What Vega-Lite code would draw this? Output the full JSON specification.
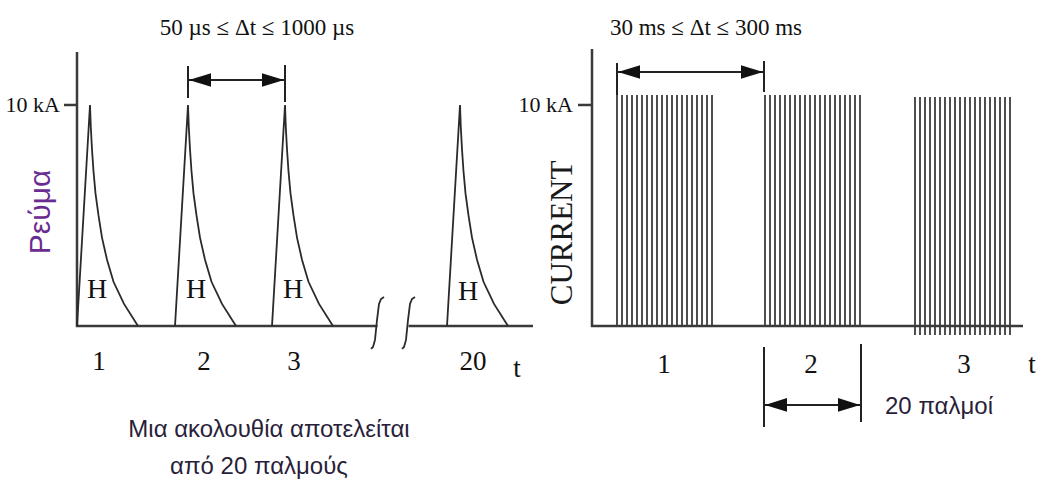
{
  "$schema": "https://vega.github.io/schema/vega-lite/v6.json",
  "width": 1037,
  "height": 486,
  "padding": 0,
  "autosize": {"type": "fit", "contains": "padding"},
  "background": "white",
  "config": {"view": {"stroke": null}},
  "datasets": {
    "curves": [
      {"id": "p1", "k": 0, "t": 7.7, "kA": 0}, {"id": "p1", "k": 1, "t": 9.0, "kA": 10}, {"id": "p1", "k": 2, "t": 9.08, "kA": 9}, {"id": "p1", "k": 3, "t": 9.2, "kA": 8}, {"id": "p1", "k": 4, "t": 9.35, "kA": 7}, {"id": "p1", "k": 5, "t": 9.55, "kA": 6}, {"id": "p1", "k": 6, "t": 9.85, "kA": 5}, {"id": "p1", "k": 7, "t": 10.2, "kA": 4}, {"id": "p1", "k": 8, "t": 10.7, "kA": 3}, {"id": "p1", "k": 9, "t": 11.35, "kA": 2}, {"id": "p1", "k": 10, "t": 12.4, "kA": 1}, {"id": "p1", "k": 11, "t": 13.8, "kA": 0},
      {"id": "p2", "k": 0, "t": 17.5, "kA": 0}, {"id": "p2", "k": 1, "t": 18.8, "kA": 10}, {"id": "p2", "k": 2, "t": 18.88, "kA": 9}, {"id": "p2", "k": 3, "t": 19.0, "kA": 8}, {"id": "p2", "k": 4, "t": 19.15, "kA": 7}, {"id": "p2", "k": 5, "t": 19.35, "kA": 6}, {"id": "p2", "k": 6, "t": 19.65, "kA": 5}, {"id": "p2", "k": 7, "t": 20.0, "kA": 4}, {"id": "p2", "k": 8, "t": 20.5, "kA": 3}, {"id": "p2", "k": 9, "t": 21.15, "kA": 2}, {"id": "p2", "k": 10, "t": 22.2, "kA": 1}, {"id": "p2", "k": 11, "t": 23.6, "kA": 0},
      {"id": "p3", "k": 0, "t": 27.2, "kA": 0}, {"id": "p3", "k": 1, "t": 28.5, "kA": 10}, {"id": "p3", "k": 2, "t": 28.58, "kA": 9}, {"id": "p3", "k": 3, "t": 28.7, "kA": 8}, {"id": "p3", "k": 4, "t": 28.85, "kA": 7}, {"id": "p3", "k": 5, "t": 29.05, "kA": 6}, {"id": "p3", "k": 6, "t": 29.35, "kA": 5}, {"id": "p3", "k": 7, "t": 29.7, "kA": 4}, {"id": "p3", "k": 8, "t": 30.2, "kA": 3}, {"id": "p3", "k": 9, "t": 30.85, "kA": 2}, {"id": "p3", "k": 10, "t": 31.9, "kA": 1}, {"id": "p3", "k": 11, "t": 33.3, "kA": 0},
      {"id": "p20", "k": 0, "t": 44.7, "kA": 0}, {"id": "p20", "k": 1, "t": 46.0, "kA": 10}, {"id": "p20", "k": 2, "t": 46.08, "kA": 9}, {"id": "p20", "k": 3, "t": 46.2, "kA": 8}, {"id": "p20", "k": 4, "t": 46.35, "kA": 7}, {"id": "p20", "k": 5, "t": 46.55, "kA": 6}, {"id": "p20", "k": 6, "t": 46.85, "kA": 5}, {"id": "p20", "k": 7, "t": 47.2, "kA": 4}, {"id": "p20", "k": 8, "t": 47.7, "kA": 3}, {"id": "p20", "k": 9, "t": 48.35, "kA": 2}, {"id": "p20", "k": 10, "t": 49.4, "kA": 1}, {"id": "p20", "k": 11, "t": 50.8, "kA": 0},
      {"id": "b1", "k": 0, "t": 37.1, "kA": -1.04}, {"id": "b1", "k": 1, "t": 37.3, "kA": -0.95}, {"id": "b1", "k": 2, "t": 37.5, "kA": -0.63}, {"id": "b1", "k": 3, "t": 37.7, "kA": 0.27}, {"id": "b1", "k": 4, "t": 37.9, "kA": 1.0}, {"id": "b1", "k": 5, "t": 38.1, "kA": 1.22}, {"id": "b1", "k": 6, "t": 38.4, "kA": 1.31},
      {"id": "b2", "k": 0, "t": 40.2, "kA": -1.04}, {"id": "b2", "k": 1, "t": 40.4, "kA": -0.95}, {"id": "b2", "k": 2, "t": 40.6, "kA": -0.63}, {"id": "b2", "k": 3, "t": 40.8, "kA": 0.27}, {"id": "b2", "k": 4, "t": 41.0, "kA": 1.0}, {"id": "b2", "k": 5, "t": 41.2, "kA": 1.22}, {"id": "b2", "k": 6, "t": 41.5, "kA": 1.31}
    ],
    "segments": [
      {"kind": "axis", "t": 7.7, "t2": 7.7, "kA": -0.05, "kA2": 12.4},
      {"kind": "axis", "t": 7.6, "t2": 37.75, "kA": 0, "kA2": 0},
      {"kind": "axis", "t": 40.85, "t2": 53.3, "kA": 0, "kA2": 0},
      {"kind": "axis", "t": 6.4, "t2": 7.7, "kA": 10, "kA2": 10},
      {"kind": "axis", "t": 59.2, "t2": 59.2, "kA": -0.05, "kA2": 12.53},
      {"kind": "axis", "t": 59.1, "t2": 102.3, "kA": 0, "kA2": 0},
      {"kind": "axis", "t": 57.8, "t2": 59.2, "kA": 10, "kA2": 10},
      {"kind": "dim", "t": 18.8, "t2": 18.8, "kA": 10.32, "kA2": 11.76},
      {"kind": "dim", "t": 28.5, "t2": 28.5, "kA": 10.14, "kA2": 11.81},
      {"kind": "dim", "t": 18.9, "t2": 28.4, "kA": 11.13, "kA2": 11.13},
      {"kind": "dim", "t": 61.7, "t2": 61.7, "kA": 10.45, "kA2": 11.9},
      {"kind": "dim", "t": 76.4, "t2": 76.4, "kA": 10.59, "kA2": 11.99},
      {"kind": "dim", "t": 61.8, "t2": 76.3, "kA": 11.49, "kA2": 11.49},
      {"kind": "dim", "t": 76.4, "t2": 76.4, "kA": -0.95, "kA2": -4.57},
      {"kind": "dim", "t": 86.1, "t2": 86.1, "kA": -0.81, "kA2": -4.34},
      {"kind": "dim", "t": 76.5, "t2": 86.0, "kA": -3.57, "kA2": -3.57}
    ],
    "bars": [
      {"g": 1, "t": 61.7, "kA": 0, "kA2": 10.45}, {"g": 1, "t": 62.2, "kA": 0, "kA2": 10.45}, {"g": 1, "t": 62.7, "kA": 0, "kA2": 10.45}, {"g": 1, "t": 63.2, "kA": 0, "kA2": 10.45}, {"g": 1, "t": 63.7, "kA": 0, "kA2": 10.45},
      {"g": 1, "t": 64.2, "kA": 0, "kA2": 10.45}, {"g": 1, "t": 64.7, "kA": 0, "kA2": 10.45}, {"g": 1, "t": 65.2, "kA": 0, "kA2": 10.45}, {"g": 1, "t": 65.7, "kA": 0, "kA2": 10.45}, {"g": 1, "t": 66.2, "kA": 0, "kA2": 10.45},
      {"g": 1, "t": 66.7, "kA": 0, "kA2": 10.45}, {"g": 1, "t": 67.2, "kA": 0, "kA2": 10.45}, {"g": 1, "t": 67.7, "kA": 0, "kA2": 10.45}, {"g": 1, "t": 68.2, "kA": 0, "kA2": 10.45}, {"g": 1, "t": 68.7, "kA": 0, "kA2": 10.45},
      {"g": 1, "t": 69.2, "kA": 0, "kA2": 10.45}, {"g": 1, "t": 69.7, "kA": 0, "kA2": 10.45}, {"g": 1, "t": 70.2, "kA": 0, "kA2": 10.45}, {"g": 1, "t": 70.7, "kA": 0, "kA2": 10.45}, {"g": 1, "t": 71.2, "kA": 0, "kA2": 10.45},
      {"g": 2, "t": 76.5, "kA": 0, "kA2": 10.45}, {"g": 2, "t": 77.0, "kA": 0, "kA2": 10.45}, {"g": 2, "t": 77.5, "kA": 0, "kA2": 10.45}, {"g": 2, "t": 78.0, "kA": 0, "kA2": 10.45}, {"g": 2, "t": 78.5, "kA": 0, "kA2": 10.45},
      {"g": 2, "t": 79.0, "kA": 0, "kA2": 10.45}, {"g": 2, "t": 79.5, "kA": 0, "kA2": 10.45}, {"g": 2, "t": 80.0, "kA": 0, "kA2": 10.45}, {"g": 2, "t": 80.5, "kA": 0, "kA2": 10.45}, {"g": 2, "t": 81.0, "kA": 0, "kA2": 10.45},
      {"g": 2, "t": 81.5, "kA": 0, "kA2": 10.45}, {"g": 2, "t": 82.0, "kA": 0, "kA2": 10.45}, {"g": 2, "t": 82.5, "kA": 0, "kA2": 10.45}, {"g": 2, "t": 83.0, "kA": 0, "kA2": 10.45}, {"g": 2, "t": 83.5, "kA": 0, "kA2": 10.45},
      {"g": 2, "t": 84.0, "kA": 0, "kA2": 10.45}, {"g": 2, "t": 84.5, "kA": 0, "kA2": 10.45}, {"g": 2, "t": 85.0, "kA": 0, "kA2": 10.45}, {"g": 2, "t": 85.5, "kA": 0, "kA2": 10.45}, {"g": 2, "t": 86.0, "kA": 0, "kA2": 10.45},
      {"g": 3, "t": 91.5, "kA": -0.41, "kA2": 10.36}, {"g": 3, "t": 92.0, "kA": -0.41, "kA2": 10.36}, {"g": 3, "t": 92.5, "kA": -0.41, "kA2": 10.36}, {"g": 3, "t": 93.0, "kA": -0.41, "kA2": 10.36}, {"g": 3, "t": 93.5, "kA": -0.41, "kA2": 10.36},
      {"g": 3, "t": 94.0, "kA": -0.41, "kA2": 10.36}, {"g": 3, "t": 94.5, "kA": -0.41, "kA2": 10.36}, {"g": 3, "t": 95.0, "kA": -0.41, "kA2": 10.36}, {"g": 3, "t": 95.5, "kA": -0.41, "kA2": 10.36}, {"g": 3, "t": 96.0, "kA": -0.41, "kA2": 10.36},
      {"g": 3, "t": 96.5, "kA": -0.41, "kA2": 10.36}, {"g": 3, "t": 97.0, "kA": -0.41, "kA2": 10.36}, {"g": 3, "t": 97.5, "kA": -0.41, "kA2": 10.36}, {"g": 3, "t": 98.0, "kA": -0.41, "kA2": 10.36}, {"g": 3, "t": 98.5, "kA": -0.41, "kA2": 10.36},
      {"g": 3, "t": 99.0, "kA": -0.41, "kA2": 10.36}, {"g": 3, "t": 99.5, "kA": -0.41, "kA2": 10.36}, {"g": 3, "t": 100.0, "kA": -0.41, "kA2": 10.36}, {"g": 3, "t": 100.5, "kA": -0.41, "kA2": 10.36}, {"g": 3, "t": 101.0, "kA": -0.41, "kA2": 10.36}
    ],
    "heads": [
      {"dir": "left", "t": 20.0, "kA": 11.13}, {"dir": "right", "t": 27.3, "kA": 11.13},
      {"dir": "left", "t": 62.9, "kA": 11.49}, {"dir": "right", "t": 75.2, "kA": 11.49},
      {"dir": "left", "t": 77.6, "kA": -3.57}, {"dir": "right", "t": 84.9, "kA": -3.57}
    ],
    "labels": [
      {"kind": "title", "t": 25.7, "kA": 13.48, "label": "50 µs ≤ Δt ≤ 1000 µs"},
      {"kind": "title", "t": 70.6, "kA": 13.48, "label": "30 ms ≤ Δt ≤ 300 ms"},
      {"kind": "tick", "t": 6.0, "kA": 10, "label": "10 kA"},
      {"kind": "tick", "t": 57.3, "kA": 10, "label": "10 kA"},
      {"kind": "num", "t": 9.9, "kA": -1.63, "label": "1"},
      {"kind": "num", "t": 20.4, "kA": -1.63, "label": "2"},
      {"kind": "num", "t": 29.4, "kA": -1.63, "label": "3"},
      {"kind": "num", "t": 47.3, "kA": -1.63, "label": "20"},
      {"kind": "num", "t": 51.7, "kA": -1.95, "label": "t"},
      {"kind": "num", "t": 66.4, "kA": -1.76, "label": "1"},
      {"kind": "num", "t": 81.1, "kA": -1.76, "label": "2"},
      {"kind": "num", "t": 96.4, "kA": -1.76, "label": "3"},
      {"kind": "num", "t": 103.2, "kA": -1.76, "label": "t"},
      {"kind": "H", "t": 9.7, "kA": 1.63, "label": "H"},
      {"kind": "H", "t": 19.6, "kA": 1.63, "label": "H"},
      {"kind": "H", "t": 29.3, "kA": 1.63, "label": "H"},
      {"kind": "H", "t": 46.8, "kA": 1.54, "label": "H"},
      {"kind": "note", "t": 26.9, "kA": -4.71, "label": "Μια ακολουθία αποτελείται"},
      {"kind": "note", "t": 25.9, "kA": -6.38, "label": "από 20 παλμούς"},
      {"kind": "note", "t": 93.9, "kA": -3.67, "label": "20 παλμοί"},
      {"kind": "ytitle", "t": 4.1, "kA": 5.16, "label": "Ρεύμα"},
      {"kind": "current", "t": 56.3, "kA": 4.21, "label": "CURRENT"}
    ]
  },
  "encoding": {
    "x": {"field": "t", "type": "quantitative", "scale": {"domain": [0, 103.7], "nice": false, "zero": false}, "axis": null},
    "y": {"field": "kA", "type": "quantitative", "scale": {"domain": [-7.24, 14.75], "nice": false, "zero": false}, "axis": null}
  },
  "layer": [
    {
      "data": {"name": "bars"},
      "mark": {"type": "rule", "color": "#222222", "strokeWidth": 1.6},
      "encoding": {"y2": {"field": "kA2"}}
    },
    {
      "data": {"name": "segments"},
      "transform": [{"filter": "datum.kind === 'axis'"}],
      "mark": {"type": "rule", "color": "#3a3a3a", "strokeWidth": 2.5},
      "encoding": {"x2": {"field": "t2"}, "y2": {"field": "kA2"}}
    },
    {
      "data": {"name": "segments"},
      "transform": [{"filter": "datum.kind === 'dim'"}],
      "mark": {"type": "rule", "color": "#222222", "strokeWidth": 2},
      "encoding": {"x2": {"field": "t2"}, "y2": {"field": "kA2"}}
    },
    {
      "data": {"name": "curves"},
      "mark": {"type": "line", "color": "#2a2a2a", "strokeWidth": 1.8, "interpolate": "linear"},
      "encoding": {"detail": {"field": "id", "type": "nominal"}, "order": {"field": "k", "type": "quantitative"}}
    },
    {
      "data": {"name": "heads"},
      "mark": {"type": "point", "filled": true, "color": "#111111", "size": 484, "opacity": 1, "strokeWidth": 0},
      "encoding": {"shape": {"field": "dir", "type": "nominal", "scale": {"domain": ["left", "right"], "range": ["M-1,0L1,-0.62L1,0.62Z", "M1,0L-1,-0.62L-1,0.62Z"]}, "legend": null}}
    },
    {
      "data": {"name": "labels"},
      "transform": [{"filter": "datum.kind === 'title'"}],
      "mark": {"type": "text", "font": "Liberation Serif", "fontSize": 23, "color": "#111111", "align": "center", "baseline": "middle"},
      "encoding": {"text": {"field": "label"}}
    },
    {
      "data": {"name": "labels"},
      "transform": [{"filter": "datum.kind === 'tick'"}],
      "mark": {"type": "text", "font": "Liberation Serif", "fontSize": 22, "color": "#111111", "align": "right", "baseline": "middle"},
      "encoding": {"text": {"field": "label"}}
    },
    {
      "data": {"name": "labels"},
      "transform": [{"filter": "datum.kind === 'num'"}],
      "mark": {"type": "text", "font": "Liberation Serif", "fontSize": 27, "color": "#111111", "align": "center", "baseline": "middle"},
      "encoding": {"text": {"field": "label"}}
    },
    {
      "data": {"name": "labels"},
      "transform": [{"filter": "datum.kind === 'H'"}],
      "mark": {"type": "text", "font": "Liberation Serif", "fontSize": 28, "color": "#111111", "align": "center", "baseline": "middle"},
      "encoding": {"text": {"field": "label"}}
    },
    {
      "data": {"name": "labels"},
      "transform": [{"filter": "datum.kind === 'note'"}],
      "mark": {"type": "text", "font": "Liberation Sans", "fontSize": 24, "color": "#2a1f3a", "align": "center", "baseline": "middle"},
      "encoding": {"text": {"field": "label"}}
    },
    {
      "data": {"name": "labels"},
      "transform": [{"filter": "datum.kind === 'ytitle'"}],
      "mark": {"type": "text", "font": "Liberation Sans", "fontSize": 30, "color": "#6a2c91", "align": "center", "baseline": "middle", "angle": 270},
      "encoding": {"text": {"field": "label"}}
    },
    {
      "data": {"name": "labels"},
      "transform": [{"filter": "datum.kind === 'current'"}],
      "mark": {"type": "text", "font": "Liberation Serif", "fontSize": 31, "color": "#1a1a1a", "align": "center", "baseline": "middle", "angle": 270},
      "encoding": {"text": {"field": "label"}}
    }
  ]
}
